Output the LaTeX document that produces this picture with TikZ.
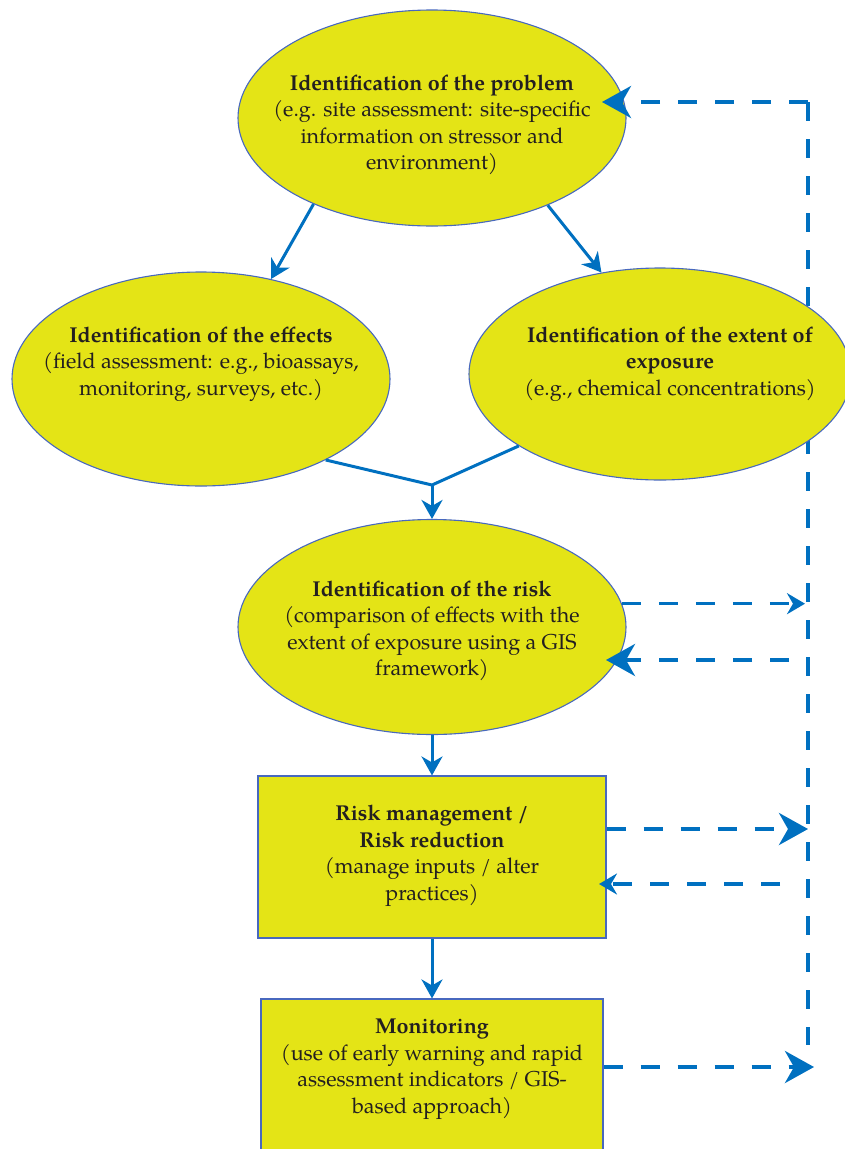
\documentclass[tikz,border=0pt]{standalone}
\usepackage{fontspec}
\setmainfont{TeX Gyre Pagella}
\usetikzlibrary{shapes.geometric,arrows.meta,calc}
\definecolor{boxfill}{RGB}{228,228,22}
\definecolor{boxline}{RGB}{72,104,190}
\definecolor{flow}{RGB}{0,112,192}
\definecolor{ink}{RGB}{35,31,32}
\tikzset{
  stage/.style={ellipse, draw=boxline, fill=boxfill, line width=1.1pt, inner sep=0pt},
  action/.style={rectangle, draw=boxline, fill=boxfill, line width=1.1pt, inner sep=0pt},
  boxtext/.style={ink, align=center, font=\fontsize{21.5}{26.5}\selectfont, inner sep=0pt},
  link/.style={-{Stealth[length=19pt, width=21pt, inset=6pt]}, draw=flow, line width=3pt},
  merge/.style={draw=flow, line width=3pt},
  feedback/.style={draw=flow, line width=4pt, dash pattern=on 19pt off 18pt},
  fbbig/.style={feedback, -{Stealth[length=29pt, width=32pt, inset=9pt]}},
  fbsmall/.style={feedback, line width=3.6pt, -{Stealth[length=18pt, width=21pt, inset=6pt]}}
}
\begin{document}
\begin{tikzpicture}[x=1pt, y=-1pt]
  \useasboundingbox (0,0) rectangle (844,1149);

  % Feedback loop on the right
  \coordinate (loop-top) at (808,102);
  \coordinate (loop-bot) at (808,1045);
  \draw[feedback] (loop-top) -- (loop-bot);

  % Stages
  \node[stage, minimum width=388pt, minimum height=216pt] (problem) at (432,118) {};
  \node[stage, minimum width=378pt, minimum height=214pt] (effects) at (201,379) {};
  \node[stage, minimum width=382pt, minimum height=212pt] (exposure) at (660,374) {};
  \node[stage, minimum width=388pt, minimum height=215pt] (risk) at (432,627) {};
  \node[action, minimum width=348pt, minimum height=162pt] (manage) at (432,857) {};
  \node[action, minimum width=342pt, minimum height=180pt] (monitor) at (432,1089) {};

  \node[boxtext] (problem-txt) at (432,125) {\textbf{Identification of the problem}\\(e.g. site assessment: site-specific\\information on stressor and\\environment)};
  \node[boxtext] (effects-txt) at (201,364) {\textbf{Identification of the effects}\\(field assessment: e.g., bioassays,\\monitoring, surveys, etc.)};
  \node[boxtext] (exposure-txt) at (670,364) {\textbf{Identification of the extent of}\\\textbf{exposure}\\(e.g., chemical concentrations)};
  \node[boxtext] (risk-txt) at (432,631) {\textbf{Identification of the risk}\\(comparison of effects with the\\extent of exposure using a GIS\\framework)};
  \node[boxtext] (manage-txt) at (432,856) {\textbf{Risk management /}\\\textbf{Risk reduction}\\(manage inputs / alter\\practices)};
  \node[boxtext] (monitor-txt) at (432,1069) {\textbf{Monitoring}\\(use of early warning and rapid\\assessment indicators / GIS-\\based approach)};

  % Main flow
  \draw[link] (problem.216) -- (effects.55);
  \draw[link] (problem.323) -- (exposure.120);
  \coordinate (junction) at (432,485);
  \draw[merge] (effects.327) -- (junction) -- (exposure.207);
  \draw[link] (junction) -- (risk.north);
  \draw[link] (risk.south) -- (manage.north);
  \draw[link] (manage.south) -- (monitor.north);

  % Feedback arrows
  \coordinate (problem-in) at (602,102);
  \draw[fbbig] (loop-top) -- (problem-in);
  \coordinate (risk-out) at (805,605);
  \draw[fbsmall] (risk.7) -- (risk.7 -| risk-out);
  \coordinate (risk-from) at (789,660);
  \coordinate (risk-in) at (606,660);
  \draw[fbbig] (risk-from) -- (risk-in);
  \coordinate (manage-out) at (808,829);
  \draw[fbbig] ([yshift=28pt]manage.east) -- (manage-out);
  \coordinate (manage-from) at (780,884);
  \coordinate (manage-in) at (599,884);
  \draw[fbsmall] (manage-from) -- (manage-in);
  \coordinate (monitor-out) at (814,1067);
  \draw[fbbig] ([yshift=22pt]monitor.east) -- (monitor-out);
\end{tikzpicture}
\end{document}
